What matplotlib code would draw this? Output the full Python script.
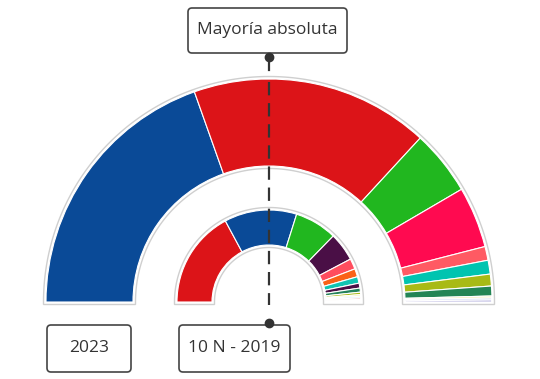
import numpy as np
import matplotlib
matplotlib.use("Agg")
import matplotlib.pyplot as plt
from matplotlib.patches import Wedge, Polygon, FancyBboxPatch

# ---- data ----
parties_2023 = ["PP", "PSOE", "Vox", "Sumar", "ERC", "Junts", "EH Bildu", "PNV", "BNG", "CC", "UPN"]
seats_2023 = [137, 121, 33, 31, 7, 7, 6, 5, 1, 1, 1]
colors_2023 = ["#0A4A97", "#DC1418", "#21B71F", "#FF0A50", "#FF5A63", "#00C4B0",
               "#A8BA15", "#238555", "#F3ECB0", "#C9D8F0", "#ABA6DA"]

parties_2019 = ["PSOE", "PP", "Vox", "UP", "ERC", "Cs", "JxCat", "PNV", "EH Bildu",
                "Más País", "CUP", "CC", "NA+", "BNG", "PRC", "Teruel Existe"]
seats_2019 = [120, 89, 52, 35, 13, 10, 8, 6, 5, 3, 2, 2, 2, 1, 1, 1]
colors_2019 = ["#DC1418", "#0A4A97", "#21B71F", "#4A0F46", "#FF4D5E", "#FA6117",
               "#10C4B2", "#4A0F46", "#24815A", "#A9BA1A", "#F7E8A0", "#C8E6F0",
               "#F2B8B8", "#B9D9A8", "#E8C090", "#D0B0E0"]

total_seats = 350
majority_label = "Mayoría absoluta"
ring_labels = ["2023", "10 N - 2019"]

# ---- figure ----
W, H = 540, 379
fig = plt.figure(figsize=(W / 100, H / 100), dpi=100)
ax = fig.add_axes([0, 0, 1, 1])
ax.set_xlim(0, W)
ax.set_ylim(0, H)
ax.set_aspect("equal")
ax.axis("off")

cx, cy = 269, H - 302
FONT = ["Open Sans", "DejaVu Sans"]


def outline(R, r, d=2.5):
    th = np.linspace(0, np.pi, 200)
    outer = np.c_[cx + (R + d) * np.cos(th), cy + (R + d) * np.sin(th)]
    inner = np.c_[cx + (r - d) * np.cos(th[::-1]), cy + (r - d) * np.sin(th[::-1])]
    pts = np.vstack([[[cx + R + d, cy - d]], outer, [[cx - R - d, cy - d]],
                     [[cx - r + d, cy - d]], inner, [[cx + r - d, cy - d]]])
    ax.add_patch(Polygon(pts, closed=True, fill=False, edgecolor="#CFCFCF", lw=1.0, zorder=1))


def ring(seats, colors, R, r):
    outline(R, r)
    cum = np.cumsum([0] + seats)
    for i, s in enumerate(seats):
        a1 = 180 - cum[i] / total_seats * 180
        a0 = 180 - cum[i + 1] / total_seats * 180
        ax.add_patch(Wedge((cx, cy), R, a0, a1, width=R - r, facecolor=colors[i],
                           edgecolor="white", lw=0.8, zorder=2))


ring(seats_2023, colors_2023, 223, 136)
ring(seats_2019, colors_2019, 92, 57)

# majority line
ax.plot([cx, cx], [H - 57, H - 70], color="#333333", lw=1.6, zorder=5)
ax.plot([cx, cx], [H - 82, H - 305], color="#333333", lw=1.6,
        linestyle=(0, (6, 3.5)), zorder=5)
ax.plot([cx], [H - 57], "o", color="#333333", ms=6, zorder=6)
ax.plot([cx], [H - 323], "o", color="#333333", ms=6, zorder=6)


def box(x0, y0, x1, y1, text):
    ax.add_patch(FancyBboxPatch((x0, H - y1), x1 - x0, y1 - y0,
                                boxstyle="round,pad=0,rounding_size=4",
                                facecolor="white", edgecolor="#444444", lw=1.2, zorder=4))
    ax.text((x0 + x1) / 2, H - (y0 + y1) / 2, text, ha="center", va="center",
            fontsize=12.5, color="#333333", family=FONT, zorder=7)


box(188, 8, 347, 53, majority_label)
box(47, 325, 131, 372, ring_labels[0])
box(179, 325, 290, 372, ring_labels[1])

fig.savefig("out.png", dpi=100)
